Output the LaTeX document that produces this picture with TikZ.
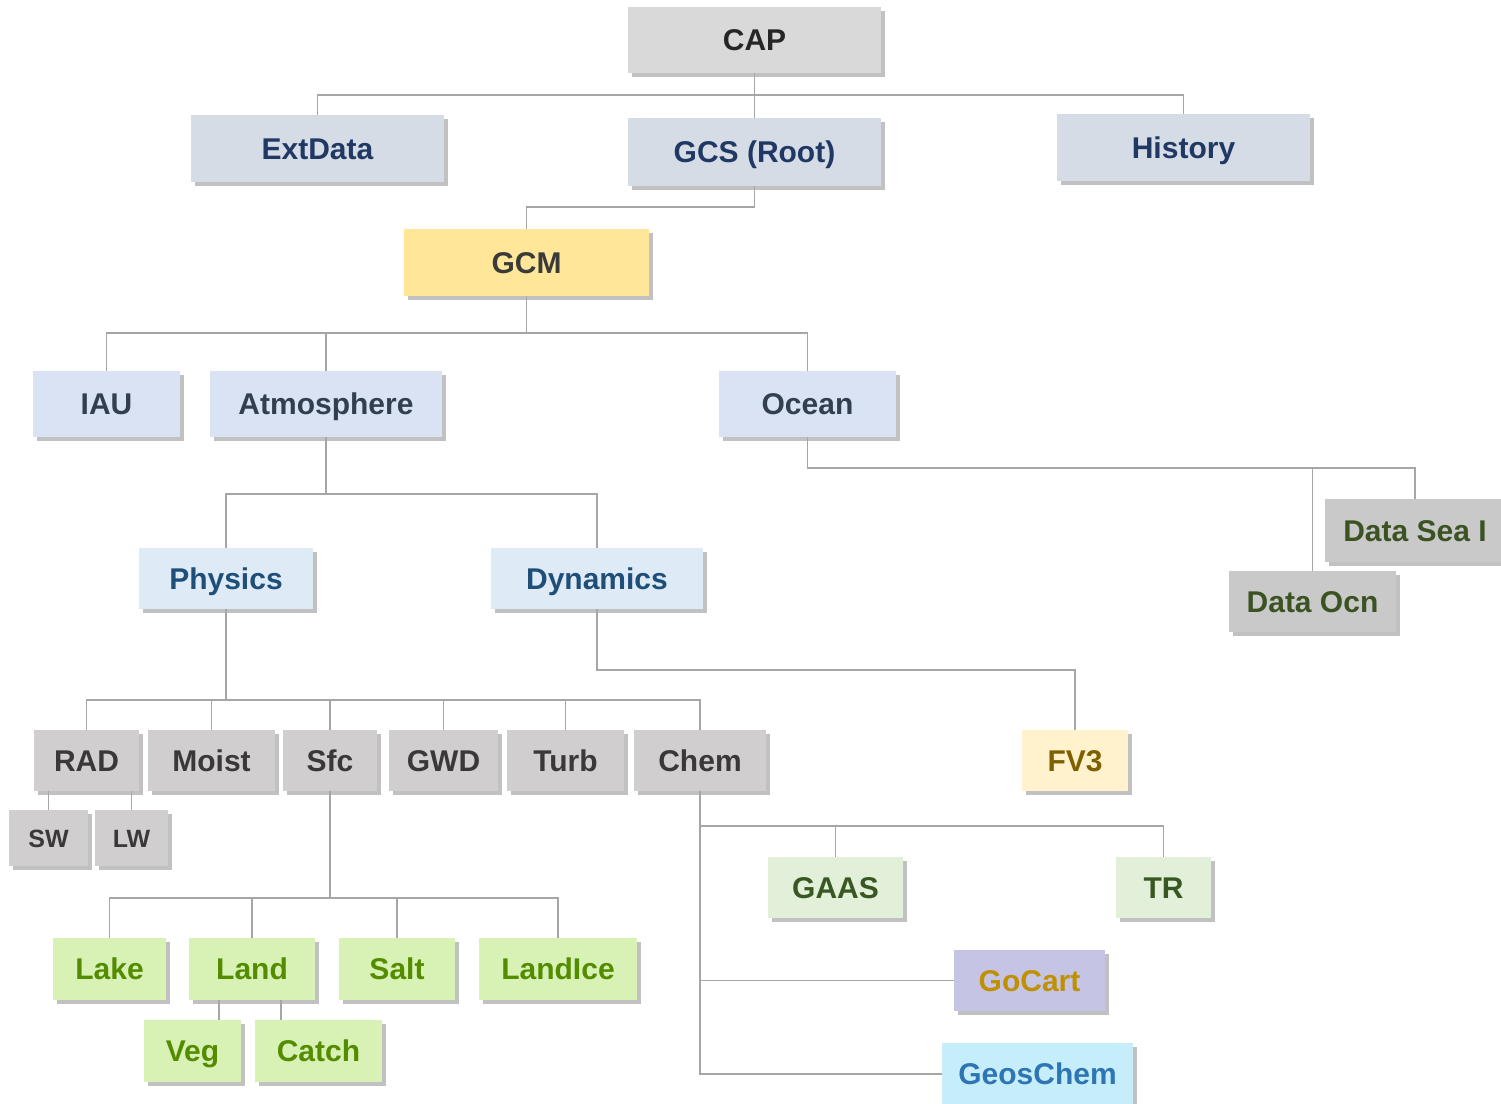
\documentclass[tikz,border=0pt]{standalone}
\usepackage{fontspec}
\setmainfont{Liberation Sans}
\usetikzlibrary{shadows}
\definecolor{lnc}{HTML}{A6A6A6}
\definecolor{capF}{HTML}{D9D9D9}\definecolor{capT}{HTML}{262626}
\definecolor{lvlF}{HTML}{D6DCE5}\definecolor{lvlT}{HTML}{203864}
\definecolor{gcmF}{HTML}{FFE699}\definecolor{gcmT}{HTML}{3A3A3A}
\definecolor{atmF}{HTML}{DAE3F3}\definecolor{atmT}{HTML}{333F50}
\definecolor{phyF}{HTML}{DEEBF7}\definecolor{phyT}{HTML}{1F4E79}
\definecolor{datF}{HTML}{C9C9C9}\definecolor{datT}{HTML}{3B5323}
\definecolor{grF}{HTML}{D0CECE}\definecolor{grT}{HTML}{3A3838}
\definecolor{fvF}{HTML}{FFF2CC}\definecolor{fvT}{HTML}{7F6000}
\definecolor{gaF}{HTML}{E2F0D9}\definecolor{gaT}{HTML}{385723}
\definecolor{goF}{HTML}{C6C4E4}\definecolor{goT}{HTML}{BF9000}
\definecolor{geF}{HTML}{C5EEFA}\definecolor{geT}{HTML}{2E75B6}
\definecolor{lkF}{HTML}{D8F1B5}\definecolor{lkT}{HTML}{548C00}
\begin{document}
\begin{tikzpicture}[x=1pt,y=-1pt,
  bx/.style={inner sep=0pt,font=\fontsize{30}{36}\selectfont\bfseries,
    text height=21.5pt,text depth=0pt,
    drop shadow={shadow xshift=4pt,shadow yshift=-4pt,fill=black!40,opacity=0.6}},
  sm/.style={font=\fontsize{25}{30}\selectfont\bfseries,text height=18pt},
  capS/.style={bx,fill=capF,text=capT},
  lvlS/.style={bx,fill=lvlF,text=lvlT},
  gcmS/.style={bx,fill=gcmF,text=gcmT},
  atmS/.style={bx,fill=atmF,text=atmT},
  phyS/.style={bx,fill=phyF,text=phyT},
  datS/.style={bx,fill=datF,text=datT},
  grS/.style={bx,fill=grF,text=grT},
  fvS/.style={bx,fill=fvF,text=fvT},
  gaS/.style={bx,fill=gaF,text=gaT},
  goS/.style={bx,fill=goF,text=goT},
  geS/.style={bx,fill=geF,text=geT},
  lkS/.style={bx,fill=lkF,text=lkT},
  ln/.style={draw=lnc,line width=1.8pt}]
\useasboundingbox (0,0) rectangle (1501,1103);
\clip (0,0) rectangle (1501,1103);
\fill[white] (0,0) rectangle (1501,1103);
\coordinate (y95) at (0,95);
\coordinate (y207) at (0,207);
\coordinate (y333) at (0,333);
\coordinate (y468) at (0,468);
\coordinate (y494) at (0,494);
\coordinate (y670) at (0,670);
\coordinate (y700) at (0,700);
\coordinate (y826) at (0,826);
\coordinate (y898) at (0,898);
% nodes
\node[capS,minimum width=253pt,minimum height=66pt] (cap) at (754.5,40) {CAP};
\node[lvlS,minimum width=253pt,minimum height=67pt] (ext) at (317.5,148.5) {ExtData};
\node[lvlS,minimum width=253pt,minimum height=68pt] (gcs) at (754.5,152) {GCS (Root)};
\node[lvlS,minimum width=253pt,minimum height=67pt] (hist) at (1183.5,147.5) {History};
\node[gcmS,minimum width=245pt,minimum height=67pt] (gcm) at (526.5,262.5) {GCM};
\node[atmS,minimum width=147pt,minimum height=66pt] (iau) at (106.5,404) {IAU};
\node[atmS,minimum width=232pt,minimum height=66pt] (atm) at (326,404) {Atmosphere};
\node[atmS,minimum width=177pt,minimum height=66pt] (ocn) at (807.5,404) {Ocean};
\node[phyS,minimum width=174pt,minimum height=61pt] (phy) at (226,578.5) {Physics};
\node[phyS,minimum width=212pt,minimum height=61pt] (dyn) at (597,578.5) {Dynamics};
\node[datS,minimum width=180pt,minimum height=63pt] (dsea) at (1415,530.5) {Data Sea I\hspace{4pt}};
\node[datS,minimum width=167pt,minimum height=61pt] (docn) at (1312.5,601.5) {Data Ocn};
\node[grS,minimum width=105pt,minimum height=61pt] (rad) at (86.5,760.5) {RAD};
\node[grS,minimum width=127pt,minimum height=61pt] (moist) at (211.5,760.5) {Moist};
\node[grS,minimum width=94pt,minimum height=61pt] (sfc) at (330,760.5) {Sfc};
\node[grS,minimum width=109pt,minimum height=61pt] (gwd) at (443.5,760.5) {GWD};
\node[grS,minimum width=117pt,minimum height=61pt] (turb) at (565.5,760.5) {Turb};
\node[grS,minimum width=132pt,minimum height=61pt] (chem) at (700,760.5) {Chem};
\node[fvS,minimum width=106pt,minimum height=61pt] (fv3) at (1075,760.5) {FV3};
\node[grS,sm,minimum width=79pt,minimum height=56pt] (sw) at (48.5,838) {SW};
\node[grS,sm,minimum width=73pt,minimum height=56pt] (lw) at (131.5,838) {LW};
\node[gaS,minimum width=135pt,minimum height=61pt] (gaas) at (835.5,887.5) {GAAS};
\node[gaS,minimum width=95pt,minimum height=61pt] (tr) at (1163.5,887.5) {TR};
\node[goS,minimum width=151pt,minimum height=61pt] (goc) at (1029.5,980.5) {GoCart};
\node[geS,minimum width=191pt,minimum height=62pt] (geos) at (1037.5,1074) {GeosChem};
\node[lkS,minimum width=113pt,minimum height=62pt] (lake) at (109.5,969) {Lake};
\node[lkS,minimum width=126pt,minimum height=62pt] (land) at (252,969) {Land};
\node[lkS,minimum width=116pt,minimum height=62pt] (salt) at (397,969) {Salt};
\node[lkS,minimum width=158pt,minimum height=62pt] (lice) at (558,969) {LandIce};
\node[lkS,minimum width=97pt,minimum height=62pt] (veg) at (192.5,1051) {Veg};
\node[lkS,minimum width=127pt,minimum height=62pt] (catch) at (318.5,1051) {Catch};
% connectors
\draw[ln] (cap.south) -- (cap.south |- y95);
\draw[ln] (ext.north) -- (ext.north |- y95) -- (hist.north |- y95) -- (hist.north);
\draw[ln] (cap.south |- y95) -- (gcs.north);
\draw[ln] (gcs.south) -- (gcs.south |- y207) -| (gcm.north);
\draw[ln] (gcm.south) -- (gcm.south |- y333);
\draw[ln] (iau.north) -- (iau.north |- y333) -- (ocn.north |- y333) -- (ocn.north);
\draw[ln] (atm.north |- y333) -- (atm.north);
\draw[ln] (atm.south) -- (atm.south |- y494);
\draw[ln] (phy.north) -- (phy.north |- y494) -- (dyn.north |- y494) -- (dyn.north);
\draw[ln] (ocn.south) -- (ocn.south |- y468) -| (dsea.north);
\draw[ln] (docn.north |- y468) -- (docn.north);
\draw[ln] (phy.south) -- (phy.south |- y700);
\draw[ln] (rad.north) -- (rad.north |- y700) -- (chem.north |- y700) -- (chem.north);
\foreach \n in {moist,sfc,gwd,turb} \draw[ln] (\n.north |- y700) -- (\n.north);
\draw[ln] (dyn.south) -- (dyn.south |- y670) -| (fv3.north);
\draw[ln] (sw.north) -- (sw.north |- rad.south);
\draw[ln] (lw.north) -- (lw.north |- rad.south);
\draw[ln] (chem.south) -- (chem.south |- geos.west) -- (geos.west);
\draw[ln] (chem.south |- y826) -- (tr.north |- y826) -- (tr.north);
\draw[ln] (gaas.north |- y826) -- (gaas.north);
\draw[ln] (chem.south |- goc.west) -- (goc.west);
\draw[ln] (sfc.south) -- (sfc.south |- y898);
\draw[ln] (lake.north) -- (lake.north |- y898) -- (lice.north |- y898) -- (lice.north);
\draw[ln] (land.north |- y898) -- (land.north);
\draw[ln] (salt.north |- y898) -- (salt.north);
\draw[ln] (veg.north -| 219,0) -- (land.south -| 219,0);
\draw[ln] (catch.north -| 281,0) -- (land.south -| 281,0);
\end{tikzpicture}
\end{document}
